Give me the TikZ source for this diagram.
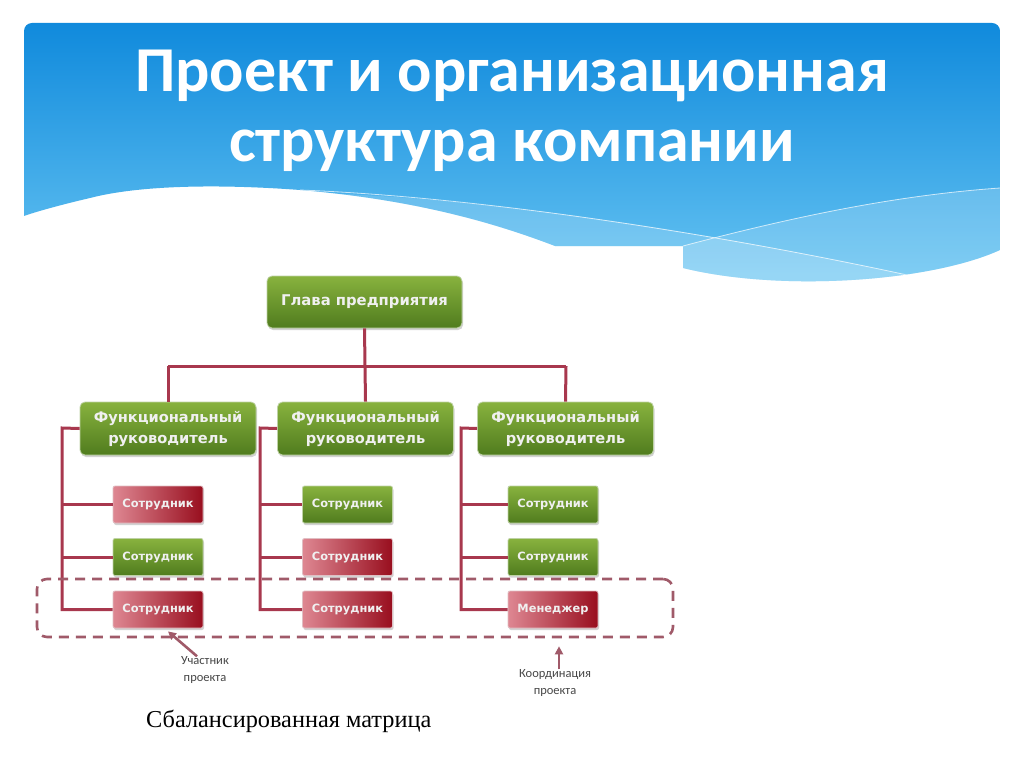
\documentclass[tikz,border=0pt]{standalone}
\usepackage{fontspec}
\setmainfont{Liberation Serif}
\newfontfamily\titlefont{Carlito}
\newfontfamily\boxfont{DejaVu Sans}
\newfontfamily\labfont{Carlito}
\usetikzlibrary{shadows,arrows.meta}
\definecolor{hdtop}{RGB}{16,138,220}
\definecolor{hdbot}{RGB}{105,198,243}
\definecolor{gtop}{RGB}{136,178,62}
\definecolor{gbot}{RGB}{80,124,30}
\definecolor{gedge}{RGB}{190,210,165}
\definecolor{rleft}{RGB}{222,135,146}
\definecolor{rright}{RGB}{152,14,30}
\definecolor{redge}{RGB}{225,190,195}
\definecolor{btext}{RGB}{240,240,240}
\definecolor{connc}{RGB}{168,56,78}
\definecolor{dashc}{RGB}{160,90,105}
\definecolor{labc}{RGB}{70,70,70}
\tikzset{
  gbox/.style={rounded corners=5pt, top color=gtop, bottom color=gbot, draw=gedge, line width=0.8pt,
    drop shadow={opacity=0.35, shadow xshift=1pt, shadow yshift=-2pt},
    text=btext, align=center, inner sep=0pt},
  rbox/.style={rounded corners=2pt, left color=rleft, right color=rright, draw=redge, line width=0.8pt,
    drop shadow={opacity=0.35, shadow xshift=1pt, shadow yshift=-2pt},
    text=btext, align=center, inner sep=0pt},
  bigbox/.style={minimum width=176pt, minimum height=53pt, font=\boxfont\bfseries\fontsize{14.6}{21}\selectfont},
  headbox/.style={minimum width=195pt, minimum height=52pt, font=\boxfont\bfseries\fontsize{14.8}{20}\selectfont},
  empbox/.style={rounded corners=2pt, minimum width=90pt, minimum height=37pt, font=\boxfont\bfseries\fontsize{11.4}{13}\selectfont},
  conn/.style={draw=connc, line width=3pt},
  dashbox/.style={draw=dashc, line width=2.6pt, dash pattern=on 10pt off 7pt, rounded corners=10pt, inner sep=0pt},
  arr/.style={draw=dashc, line width=2.6pt, -{Triangle[length=8pt,width=8pt]}},
  lab/.style={font=\labfont\fontsize{12.5}{17}\selectfont, text=labc, align=center, inner sep=0pt},
  ttl/.style={font=\titlefont\bfseries\fontsize{64}{70}\selectfont, text=white, inner sep=0pt, anchor=base}
}
\begin{document}
\begin{tikzpicture}[x=1pt,y=-1pt]
\useasboundingbox (0,0) rectangle (1024,767);
\fill[white] (0,0) rectangle (1024,767);
% header
\def\hdpath{(24,31) arc[start angle=180,end angle=270,radius=8] -- (992,23) arc[start angle=270,end angle=360,radius=8]
  -- (1000,250) .. controls (930,282) and (780,292) .. (683,268) -- (683,246) -- (555,246)
  .. controls (500,225) and (420,200) .. (300,190) .. controls (220,184) and (140,185) .. (90,198)
  .. controls (60,205) and (35,212) .. (24,216) -- cycle}
\shade[top color=hdtop, bottom color=hdbot] \hdpath;
\begin{scope}
\clip \hdpath;
\fill[white, opacity=0.18] (280,192) .. controls (500,195) and (750,240) .. (930,280) -- (1000,300) -- (200,300) -- cycle;
\fill[white, opacity=0.18] (683,246) .. controls (800,215) and (900,195) .. (1000,188) -- (1000,300) -- (683,300) -- cycle;
\draw[white, opacity=0.7, line width=0.8pt] (300,190) .. controls (500,198) and (750,240) .. (930,280);
\draw[white, opacity=0.7, line width=0.8pt] (683,246) .. controls (800,215) and (900,195) .. (1000,188);
\end{scope}
\node[ttl] (t1) at (512,92) {Проект и организационная};
\node[ttl] (t2) at (512,162) {структура компании};
% connectors
\coordinate (bus) at (365,366);
\coordinate (busL) at (168,366);
\coordinate (busR) at (566,366);
\coordinate (v1) at (62,428);
\coordinate (v2) at (260,428);
\coordinate (v3) at (461,428);
% boxes
\node[gbox, headbox] (head) at (364.5,302) {Глава предприятия};
\node[gbox, bigbox] (f1) at (168,428.5) {Функциональный\\руководитель};
\node[gbox, bigbox] (f2) at (365.5,428.5) {Функциональный\\руководитель};
\node[gbox, bigbox] (f3) at (565.5,428.5) {Функциональный\\руководитель};
\draw[conn] (head.south) -- (bus);
\draw[conn] (busL) -- (busR);
\draw[conn] (busL) -- (f1.north);
\draw[conn] (bus) -- (f2.north);
\draw[conn] (busR) -- (f3.north);
% employees
\node[rbox, empbox] (e11) at (158,504.5) {Сотрудник};
\node[gbox, empbox] (e12) at (158,557) {Сотрудник};
\node[rbox, empbox] (e13) at (158,609.5) {Сотрудник};
\node[gbox, empbox] (e21) at (347.5,504.5) {Сотрудник};
\node[rbox, empbox] (e22) at (347.5,557) {Сотрудник};
\node[rbox, empbox] (e23) at (347.5,609.5) {Сотрудник};
\node[gbox, empbox] (e31) at (553,504.5) {Сотрудник};
\node[gbox, empbox] (e32) at (553,557) {Сотрудник};
\node[rbox, empbox] (e33) at (553,609.5) {Менеджер};
\draw[conn] (f1.west) -- (v1) -- (v1 |- e13) -- (e13.west);
\draw[conn] (v1 |- e11) -- (e11.west);
\draw[conn] (v1 |- e12) -- (e12.west);
\draw[conn] (f2.west) -- (v2) -- (v2 |- e23) -- (e23.west);
\draw[conn] (v2 |- e21) -- (e21.west);
\draw[conn] (v2 |- e22) -- (e22.west);
\draw[conn] (f3.west) -- (v3) -- (v3 |- e33) -- (e33.west);
\draw[conn] (v3 |- e31) -- (e31.west);
\draw[conn] (v3 |- e32) -- (e32.west);
% project box
\node[dashbox, minimum width=636pt, minimum height=58pt] (proj) at (355,608) {};
\node[lab] (lab1) at (205,670) {Участник\\проекта};
\node[lab] (lab2) at (555,683) {Координация\\проекта};
\draw[arr] ([xshift=-8pt]lab1.north) -- ([xshift=10pt,yshift=-3pt]e13.south);
\draw[arr] ([xshift=4pt]lab2.north) -- ([xshift=4pt,yshift=-8pt]lab2.north |- proj.south);
\node[font=\fontsize{24.3}{28}\selectfont, anchor=base west, inner sep=0pt, text=black] (cap) at (146,727) {Сбалансированная матрица};
\end{tikzpicture}
\end{document}
